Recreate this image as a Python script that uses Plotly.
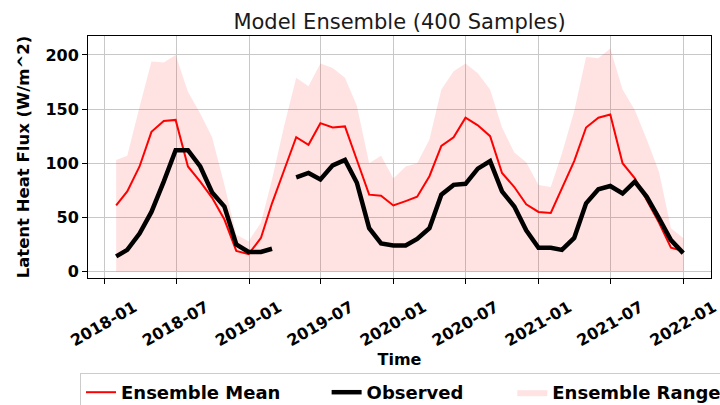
import pandas as pd
import plotly.graph_objects as go

# Monthly (month-end) dates: 2018-01-31 .. 2021-12-31
dates = pd.date_range("2018-01-31", "2021-12-31", freq="ME")

ensemble_mean = [61, 74, 97, 129, 139, 140, 97, 83, 68, 48, 19, 16,
                 31, 63, 94, 124, 117, 137, 133, 134, 103, 71, 70, 61,
                 65, 69, 88, 116, 124, 142, 135, 125, 91, 78, 62, 55,
                 54, 77, 102, 133, 142, 145, 100, 86, 66, 45, 22, 19]

observed = [14, 20, 35, 55, 83, 112, 112, 97, 73, 60, 25, 18,
            18, 21, None, 87, 91, 85, 98, 103, 82, 40, 26, 24,
            24, 30, 40, 71, 80, 81, 95, 102, 74, 60, 38, 22,
            22, 20, 31, 63, 76, 79, 72, 83, 69, 49, 29, 17]

range_upper = [103, 107, 152, 194, 193, 200, 166, 146, 124, 80, 34, 28,
               45, 85, 135, 179, 171, 192, 188, 179, 153, 100, 107, 86,
               97, 100, 122, 168, 185, 192, 183, 168, 133, 110, 101, 80,
               78, 109, 148, 198, 197, 206, 168, 149, 122, 92, 40, 31]

range_lower = [0, 0, 0, 0, 0, 0, 0, 0, 0, 0, 0, 0,
               0, 0, 0, 0, 0, 0, 0, 0, 0, 0, 0, 0,
               0, 0, 0, 0, 0, 0, 0, 0, 0, 0, 0, 0,
               0, 0, 0, 0, 0, 0, 0, 0, 0, 0, 0, 0]

title_text = "Model Ensemble (400 Samples)"
x_title = "Time"
y_title = "Latent Heat Flux (W/m^2)"
legend_names = ["Ensemble Mean", "Observed", "Ensemble Range"]

FONT = "DejaVu Sans"
NB = "\u00a0"
THIN = "\u2009"

fig = go.Figure()
fig.add_trace(go.Scatter(x=dates, y=range_lower, mode="lines",
                         line=dict(width=0, color="rgba(255,0,0,0)"),
                         showlegend=False, hoverinfo="skip"))
fig.add_trace(go.Scatter(x=dates, y=range_upper, mode="lines", fill="tonexty",
                         fillcolor="rgba(255,0,0,0.115)",
                         line=dict(width=0, color="rgba(255,0,0,0)"),
                         name=legend_names[2], showlegend=False))
fig.add_trace(go.Scatter(x=dates, y=ensemble_mean, mode="lines",
                         line=dict(color="red", width=2),
                         name=legend_names[0] + NB * 6 + THIN))
fig.add_trace(go.Scatter(x=dates, y=observed, mode="lines",
                         line=dict(color="black", width=4.5),
                         name=legend_names[1] + NB * 7, connectgaps=False))
# legend entry for the range (patch)
fig.add_trace(go.Scatter(x=[None], y=[None], mode="lines", fill="toself",
                         fillcolor="rgba(255,0,0,0.115)",
                         line=dict(width=0, color="rgba(255,0,0,0)"),
                         name=legend_names[2]))

fig.update_layout(
    width=720, height=405,
    margin=dict(l=88, r=9, t=36, b=127, autoexpand=False),
    paper_bgcolor="white", plot_bgcolor="white",
    font=dict(family=FONT, size=16, color="black"),
    title=dict(text=title_text, x=0.5 * (88 + 711) / 720,
               xanchor="center", y=1 - 29 / 405, yanchor="bottom",
               font=dict(family=FONT, size=21, color="#1a1a1a")),
    legend=dict(orientation="h", x=-0.0128, y=(278 - 373) / 242,
                xanchor="left", yanchor="top",
                font=dict(family=FONT, size=18, weight="bold"),
                bordercolor="#cccccc", borderwidth=1, bgcolor="white",
                itemwidth=30, traceorder="normal"),
    showlegend=True,
)
fig.update_xaxes(
    range=["2017-11-21", "2022-03-11"],
    dtick="M6", tick0="2018-01-01", tickformat="%Y-%m",
    tickangle=-30, ticklabelshift=30, ticklabelstandoff=8,
    tickfont=dict(family=FONT, size=16, weight="bold"),
    ticks="outside", ticklen=5, tickcolor="black",
    showgrid=True, gridcolor="#c8c8c8", gridwidth=1,
    showline=True, linecolor="black", linewidth=1, mirror=True,
    title=dict(text=x_title, font=dict(family=FONT, size=16, weight="bold"), standoff=2),
    zeroline=False, automargin=False,
)
fig.update_yaxes(
    range=[-6, 217.5],
    tickvals=[0, 50, 100, 150, 200],
    tickfont=dict(family=FONT, size=16, weight="bold"),
    ticks="outside", ticklen=5, tickcolor="black",
    showgrid=True, gridcolor="#c8c8c8", gridwidth=1,
    showline=True, linecolor="black", linewidth=1, mirror=True,
    title=dict(text=y_title, font=dict(family=FONT, size=16.5, weight="bold"), standoff=11),
    zeroline=False, automargin=False,
)

fig.write_html("out.html")
